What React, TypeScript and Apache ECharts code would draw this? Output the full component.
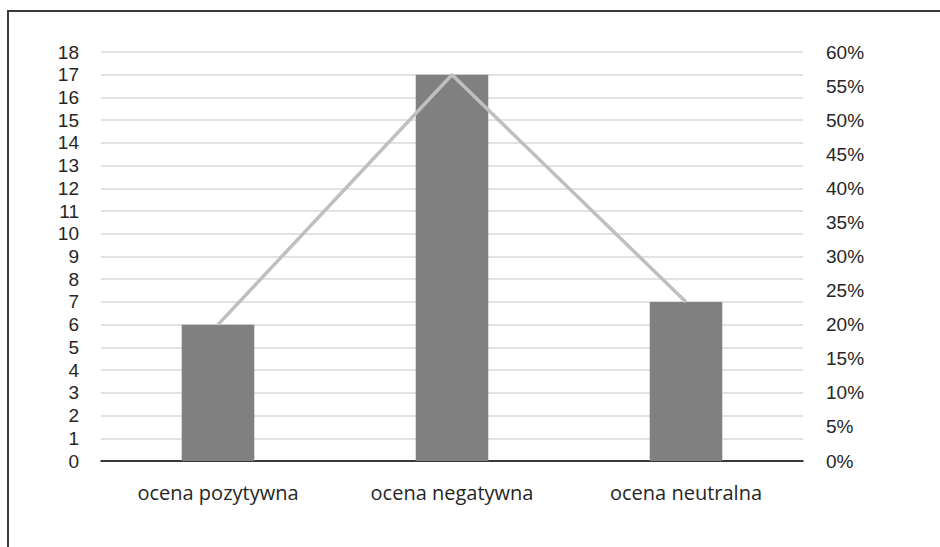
import React, { useEffect, useRef } from "react";
import * as echarts from "echarts";

const categories = ["ocena pozytywna", "ocena negatywna", "ocena neutralna"];
const counts = [6, 17, 7];
const shares = [0.2, 0.5667, 0.2333];

export default function App() {
  const ref = useRef<HTMLDivElement>(null);
  useEffect(() => {
    if (!ref.current) return;
    const chart = echarts.init(ref.current, null, { renderer: "svg" });
    const font = "'Open Sans', sans-serif";
    const numFont = "'Liberation Sans', Arial, sans-serif";
    const txt = "#262626";
    chart.setOption({
      animation: false,
      backgroundColor: "#ffffff",
      graphic: [
        {
          type: "rect",
          shape: { x: 8, y: 11, width: 1000, height: 1000 },
          style: { fill: "none", stroke: "#3a3a3a", lineWidth: 2 },
          silent: true,
        },
      ],
      grid: { left: 101, right: 137, top: 52, bottom: 86 },
      xAxis: {
        type: "category",
        data: categories,
        axisLine: { lineStyle: { color: "#000", width: 1.5 } },
        axisTick: { show: false },
        axisLabel: { color: txt, fontSize: 20, lineHeight: 20, fontFamily: font, margin: 21 },
      },
      yAxis: [
        {
          type: "value",
          min: 0,
          max: 18,
          interval: 1,
          axisLine: { show: false },
          axisTick: { show: false },
          splitLine: { lineStyle: { color: "#d9d9d9", width: 1.5 } },
          axisLabel: { color: txt, fontSize: 19, lineHeight: 20, fontFamily: numFont, margin: 22 },
        },
        {
          type: "value",
          min: 0,
          max: 0.6,
          interval: 0.05,
          position: "right",
          axisLine: { show: false },
          axisTick: { show: false },
          splitLine: { show: false },
          axisLabel: {
            color: txt,
            fontSize: 19,
            lineHeight: 20,
            fontFamily: numFont,
            margin: 23,
            formatter: (v: number) => Math.round(v * 100) + "%",
          },
        },
      ],
      series: [
        {
          type: "bar",
          data: counts,
          barWidth: "31%",
          itemStyle: { color: "#808080" },
          yAxisIndex: 0,
        },
        {
          type: "line",
          data: shares,
          yAxisIndex: 1,
          symbol: "none",
          lineStyle: { color: "#bfbfbf", width: 3.5 },
        },
      ],
    });
    return () => chart.dispose();
  }, []);
  return (
    <div
      ref={ref}
      style={{ position: "absolute", left: 0, top: 0, width: 940, height: 547 }}
    />
  );
}
